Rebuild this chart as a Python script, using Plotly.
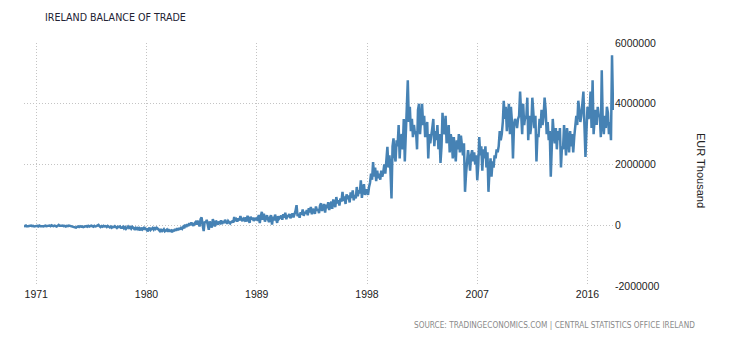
import plotly.graph_objects as go

# Monthly balance of trade, EUR thousand, one list per year (Jan..Dec)
y1970 = [-20000, -30000, -10000, -40000, -30000, -20000, -30000, -10000, -30000, -20000, -40000, -30000]
y1971 = [-30000, -20000, -40000, -10000, -30000, -20000, -30000, -40000, -20000, -10000, -30000, -20000]
y1972 = [-20000, -10000, -30000, 0, -20000, -30000, -10000, -20000, -40000, -20000, 10000, -20000]
y1973 = [-30000, -20000, -10000, -30000, -20000, -40000, -20000, -30000, -10000, -20000, -30000, -40000]
y1974 = [-50000, -70000, -60000, -80000, -50000, -40000, -60000, -30000, -50000, -40000, -60000, -50000]
y1975 = [-40000, -30000, -50000, -20000, -40000, -30000, -10000, -30000, -50000, -20000, -40000, -30000]
y1976 = [-20000, 10000, -30000, -60000, -30000, -50000, -20000, -40000, -30000, -60000, -20000, -50000]
y1977 = [-70000, -40000, -80000, -50000, -60000, -30000, -70000, -90000, -50000, -60000, -40000, -80000]
y1978 = [-80000, -50000, -100000, -60000, -120000, -70000, -40000, -90000, -60000, -110000, -50000, -80000]
y1979 = [-120000, -90000, -150000, -60000, -130000, -100000, -170000, -80000, -140000, -110000, -60000, -150000]
y1980 = [-100000, -200000, -130000, -80000, -160000, -120000, -90000, -140000, -70000, -120000, -80000, -110000]
y1981 = [-150000, -190000, -120000, -220000, -170000, -130000, -200000, -180000, -140000, -210000, -160000, -190000]
y1982 = [-170000, -230000, -150000, -200000, -120000, -180000, -100000, -160000, -90000, -140000, -60000, -110000]
y1983 = [-50000, -100000, 20000, -60000, 40000, -30000, 70000, 0, 90000, 30000, -20000, 60000]
y1984 = [100000, 30000, 150000, 60000, -40000, 200000, 260000, 10000, -190000, 120000, 80000, 180000]
y1985 = [50000, -150000, 130000, 40000, -80000, 200000, 90000, -40000, 150000, 60000, 20000, 120000]
y1986 = [80000, 160000, 40000, 130000, 70000, 180000, 100000, 50000, 140000, 90000, 60000, 110000]
y1987 = [130000, 90000, 270000, 170000, 200000, 120000, 230000, 160000, 300000, 190000, 140000, 210000]
y1988 = [170000, 260000, 120000, 310000, 220000, 80000, 280000, 190000, 250000, 140000, 240000, 200000]
y1989 = [230000, 150000, 340000, 70000, 300000, 440000, 180000, 380000, 120000, 260000, 330000, 200000]
y1990 = [100000, 260000, 330000, 20000, 280000, 160000, 350000, 210000, 80000, 300000, 220000, 260000]
y1991 = [320000, 180000, 360000, 250000, 410000, 200000, 330000, 280000, 370000, 230000, 300000, 390000]
y1992 = [260000, 340000, 470000, 660000, 300000, 380000, 250000, 430000, 350000, 520000, 310000, 440000]
y1993 = [380000, 500000, 330000, 560000, 420000, 600000, 360000, 540000, 450000, 380000, 620000, 480000]
y1994 = [530000, 400000, 650000, 720000, 470000, 590000, 700000, 420000, 680000, 560000, 760000, 500000]
y1995 = [640000, 780000, 540000, 850000, 700000, 600000, 930000, 720000, 820000, 650000, 880000, 780000]
y1996 = [1100000, 800000, 950000, 700000, 1020000, 860000, 980000, 750000, 1080000, 900000, 1150000, 820000]
y1997 = [1000000, 880000, 1260000, 950000, 1150000, 1050000, 1480000, 900000, 1200000, 1350000, 1000000, 1150000]
y1998 = [1150000, 1000000, 1250000, 1400000, 1700000, 1500000, 2080000, 1600000, 1900000, 1450000, 1800000, 1550000]
y1999 = [1700000, 1500000, 1800000, 1600000, 1750000, 2000000, 1700000, 2100000, 2580000, 1900000, 2300000, 1800000]
y2000 = [880000, 2600000, 2860000, 2300000, 2100000, 2800000, 2600000, 3300000, 2200000, 2900000, 3000000, 2500000]
y2001 = [3500000, 2100000, 3200000, 3600000, 4770000, 3400000, 3900000, 3100000, 3500000, 2900000, 3300000, 3000000]
y2002 = [3100000, 2500000, 3800000, 4000000, 3000000, 3500000, 4000000, 3300000, 3600000, 2900000, 3200000, 3400000]
y2003 = [2200000, 3000000, 2700000, 2900000, 3200000, 3500000, 2600000, 3100000, 2800000, 3300000, 2500000, 3000000]
y2004 = [2050000, 2600000, 3700000, 3100000, 3000000, 3600000, 2700000, 2900000, 3300000, 2400000, 3000000, 2800000]
y2005 = [2200000, 2900000, 2600000, 2100000, 2800000, 2500000, 3000000, 2400000, 2950000, 2600000, 2300000, 2700000]
y2006 = [1100000, 1700000, 2100000, 2470000, 2200000, 1800000, 2300000, 2470000, 2100000, 2400000, 2000000, 2300000]
y2007 = [1480000, 2000000, 2900000, 2300000, 2600000, 1800000, 2500000, 2200000, 2600000, 1900000, 2400000, 1100000]
y2008 = [1800000, 2200000, 1600000, 2100000, 1900000, 2300000, 2200000, 2500000, 2400000, 2600000, 3100000, 2800000]
y2009 = [3000000, 3400000, 4100000, 3500000, 3900000, 3100000, 3600000, 4000000, 3000000, 3900000, 3400000, 2200000]
y2010 = [3300000, 3500000, 3400000, 3200000, 3500000, 3600000, 4400000, 3800000, 3000000, 4000000, 3300000, 3600000]
y2011 = [3500000, 4200000, 2800000, 3600000, 3000000, 3300000, 4200000, 3700000, 3200000, 3600000, 2100000, 3000000]
y2012 = [2900000, 3500000, 3200000, 3800000, 3300000, 3600000, 4200000, 3800000, 3000000, 3400000, 2800000, 3100000]
y2013 = [1600000, 2600000, 3500000, 3000000, 2700000, 3200000, 2500000, 3100000, 2800000, 3200000, 1900000, 2600000]
y2014 = [2500000, 3300000, 2900000, 2300000, 3200000, 2700000, 2400000, 3100000, 2600000, 3000000, 2400000, 2900000]
y2015 = [3200000, 3600000, 3300000, 4100000, 3800000, 3400000, 3600000, 4000000, 4400000, 3300000, 2250000, 3100000]
y2016 = [3900000, 3500000, 3700000, 4400000, 3200000, 4770000, 3000000, 3500000, 3800000, 3300000, 3900000, 3600000]
y2017 = [3600000, 2900000, 5100000, 3300000, 3000000, 3600000, 3200000, 3900000, 3700000, 3000000, 3400000, 2800000]
y2018 = [5600000, 3800000, 4200000]

years = [y1970, y1971, y1972, y1973, y1974, y1975, y1976, y1977, y1978, y1979,
         y1980, y1981, y1982, y1983, y1984, y1985, y1986, y1987, y1988, y1989,
         y1990, y1991, y1992, y1993, y1994, y1995, y1996, y1997, y1998, y1999,
         y2000, y2001, y2002, y2003, y2004, y2005, y2006, y2007, y2008, y2009,
         y2010, y2011, y2012, y2013, y2014, y2015, y2016, y2017, y2018]

dates = []
values = []
for i, yr in enumerate(years):
    for m, v in enumerate(yr):
        dates.append(f"{1970 + i}-{m + 1:02d}-01")
        values.append(v)

x_tick_years = ["1971", "1980", "1989", "1998", "2007", "2016"]
y_ticks = [-2000000, 0, 2000000, 4000000, 6000000]

TICK_FONT = dict(family="Liberation Sans, Arial, sans-serif", size=10.5, color="#222222")
NARROW = "DejaVu Sans Condensed, sans-serif"
GRID = dict(showgrid=True, gridcolor="#c4c4c4", griddash="1px,2px", gridwidth=1,
            zeroline=False, showline=False, ticks="")

fig = go.Figure()
fig.add_trace(go.Scatter(x=dates, y=values, mode="lines",
                         line=dict(color="#4682b4", width=2.5), hoverinfo="skip"))

fig.update_layout(
    width=730, height=340,
    margin=dict(l=24, r=116, t=43, b=54),
    paper_bgcolor="white", plot_bgcolor="white",
    showlegend=False,
    title=dict(text="IRELAND BALANCE OF TRADE", x=45 / 730, xanchor="left",
               y=1 - 17 / 340, yanchor="middle",
               font=dict(family=NARROW, size=10.6, color="#222233")),
    xaxis=dict(range=["1970-01-01", "2018-03-01"],
               tickvals=[f"{y}-01-01" for y in x_tick_years], ticktext=x_tick_years,
               tickfont=TICK_FONT, **GRID),
    yaxis=dict(range=[-2000000, 6000000], side="right", tickvals=y_ticks,
               ticktext=[str(v) for v in y_ticks], tickfont=TICK_FONT, **GRID),
    annotations=[
        dict(text="EUR Thousand", textangle=90, xref="paper", yref="paper",
             x=(701 - 24) / 590, y=(286 - 170) / 243, showarrow=False,
             xanchor="center", yanchor="middle",
             font=dict(family="Liberation Sans, Arial, sans-serif", size=11, color="#222222")),
        dict(text="SOURCE: TRADINGECONOMICS.COM | CENTRAL STATISTICS OFFICE IRELAND",
             xref="paper", yref="paper", x=(697 - 24) / 590, y=(286 - 325) / 243,
             xanchor="right", yanchor="middle", showarrow=False,
             font=dict(family=NARROW, size=8.2, color="#8a8a8a")),
    ],
)

fig.write_html("out.html")
